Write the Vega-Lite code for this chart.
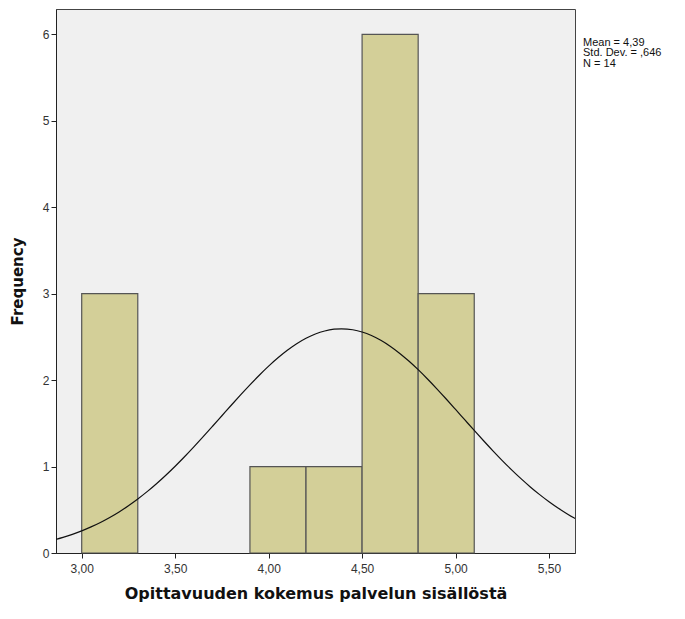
{
  "$schema": "https://vega.github.io/schema/vega-lite/v6.json",
  "width": 519,
  "height": 544,
  "autosize": {"type": "none"},
  "padding": {"left": 56, "top": 9, "right": 110, "bottom": 66},
  "background": "white",
  "config": {
    "view": {"fill": "#f0f0f0", "stroke": "#444", "strokeWidth": 1},
    "font": "Liberation Sans",
    "axis": {"domainColor": "#222", "tickColor": "#222", "labelColor": "#333", "labelFont": "Liberation Sans", "titleFont": "DejaVu Sans", "grid": false}
  },
  "datasets": {
    "bars": [
      {"lo": 3.0, "hi": 3.3, "freq": 3},
      {"lo": 3.9, "hi": 4.2, "freq": 1},
      {"lo": 4.2, "hi": 4.5, "freq": 1},
      {"lo": 4.5, "hi": 4.8, "freq": 6},
      {"lo": 4.8, "hi": 5.1, "freq": 3}
    ],
    "curve": [
      {"x": 2.85, "y": 0.1513}, {"x": 2.9, "y": 0.1814}, {"x": 2.95, "y": 0.2162}, {"x": 3.0, "y": 0.2562},
      {"x": 3.05, "y": 0.3017}, {"x": 3.1, "y": 0.3532}, {"x": 3.15, "y": 0.411}, {"x": 3.2, "y": 0.4754},
      {"x": 3.25, "y": 0.5466}, {"x": 3.3, "y": 0.6247}, {"x": 3.35, "y": 0.7097}, {"x": 3.4, "y": 0.8016},
      {"x": 3.45, "y": 0.8998}, {"x": 3.5, "y": 1.0041}, {"x": 3.55, "y": 1.1137}, {"x": 3.6, "y": 1.2278},
      {"x": 3.65, "y": 1.3458}, {"x": 3.7, "y": 1.4662}, {"x": 3.75, "y": 1.5877}, {"x": 3.8, "y": 1.7092},
      {"x": 3.85, "y": 1.8289}, {"x": 3.9, "y": 1.9453}, {"x": 3.95, "y": 2.0567}, {"x": 4.0, "y": 2.1617},
      {"x": 4.05, "y": 2.2582}, {"x": 4.1, "y": 2.345}, {"x": 4.15, "y": 2.4208}, {"x": 4.2, "y": 2.4839},
      {"x": 4.25, "y": 2.5335}, {"x": 4.3, "y": 2.5686}, {"x": 4.35, "y": 2.5887}, {"x": 4.39, "y": 2.5937},
      {"x": 4.45, "y": 2.5826}, {"x": 4.5, "y": 2.5564}, {"x": 4.55, "y": 2.5153}, {"x": 4.6, "y": 2.4602},
      {"x": 4.65, "y": 2.3919}, {"x": 4.7, "y": 2.3116}, {"x": 4.75, "y": 2.2207}, {"x": 4.8, "y": 2.1206},
      {"x": 4.85, "y": 2.0129}, {"x": 4.9, "y": 1.8992}, {"x": 4.95, "y": 1.7813}, {"x": 5.0, "y": 1.6607},
      {"x": 5.05, "y": 1.5391}, {"x": 5.1, "y": 1.4178}, {"x": 5.15, "y": 1.2983}, {"x": 5.2, "y": 1.1817},
      {"x": 5.25, "y": 1.0692}, {"x": 5.3, "y": 0.9617}, {"x": 5.35, "y": 0.8598}, {"x": 5.4, "y": 0.7641},
      {"x": 5.45, "y": 0.675}, {"x": 5.5, "y": 0.5927}, {"x": 5.55, "y": 0.5173}, {"x": 5.6, "y": 0.4488},
      {"x": 5.65, "y": 0.3871}
    ],
    "stats": [
      {"x": 5.682, "y": 5.97, "label": ["Mean = 4,39", "Std. Dev. = ,646", "N = 14"]}
    ]
  },
  "layer": [
    {
      "data": {"name": "bars"},
      "mark": {"type": "rect", "fill": "#d3cf98", "stroke": "#555", "strokeWidth": 1.2},
      "encoding": {
        "x": {
          "field": "lo", "type": "quantitative",
          "scale": {"domain": [2.8625, 5.639], "nice": false, "zero": false},
          "axis": {
            "values": [3.0, 3.5, 4.0, 4.5, 5.0, 5.5],
            "format": ".2f",
            "labelExpr": "replace(datum.label, '.', ',')",
            "title": "Opittavuuden kokemus palvelun sisällöstä",
            "titleFontSize": 16, "titleFontWeight": "bold", "titleColor": "#111",
            "titlePadding": 11,
            "labelFontSize": 12, "tickSize": 5, "labelPadding": 5
          }
        },
        "x2": {"field": "hi"},
        "y": {
          "field": "freq", "type": "quantitative",
          "scale": {"domain": [0, 6.293], "nice": false},
          "axis": {
            "values": [0, 1, 2, 3, 4, 5, 6],
            "format": "d",
            "title": "Frequency",
            "titleFontSize": 15, "titleFontWeight": "bold", "titleColor": "#111",
            "titlePadding": 17,
            "labelFontSize": 12, "tickSize": 5, "labelPadding": 2
          }
        },
        "y2": {"datum": 0}
      }
    },
    {
      "data": {"name": "curve"},
      "mark": {"type": "line", "color": "#111", "strokeWidth": 1.2, "clip": true, "interpolate": "monotone"},
      "encoding": {
        "x": {"field": "x", "type": "quantitative"},
        "y": {"field": "y", "type": "quantitative"}
      }
    },
    {
      "data": {"name": "stats"},
      "mark": {"type": "text", "align": "left", "baseline": "top", "fontSize": 11, "color": "#111", "lineHeight": 10.5, "font": "Liberation Sans"},
      "encoding": {
        "x": {"field": "x", "type": "quantitative"},
        "y": {"field": "y", "type": "quantitative"},
        "text": {"field": "label"}
      }
    }
  ]
}
